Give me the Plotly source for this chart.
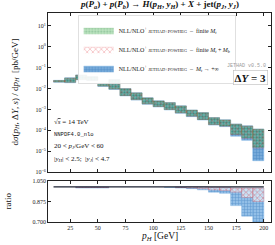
import plotly.graph_objects as go

# ---------------- data ----------------
pt_edges = [10, 20, 30, 40, 50, 60, 70, 80, 90, 100, 110, 120, 130, 140, 150, 160, 170, 180, 190, 200]

green_lo = [0.0209, 0.0200, 0.0275, 0.0251, 0.0132, 0.0095, 0.00468, 0.00295, 0.00186, 0.00138,
            0.00100, 0.000692, 0.000479, 0.000331, 0.000191, 0.000162, 6.46e-5, 4.37e-5, 1.55e-5]
green_hi = [0.0240, 0.0316, 0.0437, 0.0363, 0.0174, 0.0263, 0.00977, 0.00617, 0.00355, 0.00251,
            0.00209, 0.00145, 0.000912, 0.000692, 0.000398, 0.000309, 1.95e-4, 1.58e-4, 1.12e-4]

red_lo = [0.0209, 0.0200, 0.0274, 0.0250, 0.0132, 0.0095, 0.00468, 0.00295, 0.00186, 0.00138,
          0.00100, 0.000690, 0.000476, 0.000328, 0.000188, 0.000158, 6.2e-5, 4.0e-5, 1.4e-5]
red_hi = [0.0240, 0.0316, 0.0437, 0.0363, 0.0174, 0.0263, 0.00977, 0.00617, 0.00355, 0.00251,
          0.00209, 0.00145, 0.000912, 0.000692, 0.000398, 0.000309, 1.95e-4, 1.58e-4, 1.12e-4]

blue_lo = [0.0200, 0.0190, 0.0262, 0.0240, 0.0126, 0.0090, 0.00445, 0.00281, 0.00177, 0.00131,
           0.00095, 0.000655, 0.000452, 0.000312, 0.000178, 0.000150, 5.2e-5, 3.3e-5, 3.5e-6]
blue_hi = [0.0248, 0.0326, 0.0450, 0.0374, 0.0179, 0.0271, 0.01006, 0.00636, 0.00366, 0.00259,
           0.00215, 0.00149, 0.000940, 0.000713, 0.000410, 0.000318, 2.01e-4, 1.63e-4, 1.15e-4]

# ratio panel (to the finite-M_t central value)
blue_r_lo = [1.0, 1.0, 0.99, 0.99, 0.99, 1.0, 1.0, 1.0, 1.0, 1.0,
             0.995, 0.99, 0.985, 0.975, 0.955, 0.945, 0.84, 0.75, 0.60]
blue_r_hi = [1.0, 1.0, 1.0, 1.0, 1.0, 1.0, 1.0, 1.0, 1.0, 1.0,
             1.0, 1.0, 1.0, 1.0, 0.995, 0.995, 0.99, 0.99, 0.99]
red_r_lo = [1.0, 1.0, 0.995, 0.995, 0.995, 1.0, 1.0, 1.0, 1.0, 1.0,
            1.0, 0.995, 0.99, 0.985, 0.975, 0.97, 0.955, 0.91, 0.875]
red_r_hi = [1.0, 1.0, 1.0, 1.0, 1.0, 1.0, 1.0, 1.0, 1.0, 1.0,
            1.0, 1.0, 1.0, 1.0, 0.995, 0.995, 0.99, 0.99, 0.99]

x_ticks = [25, 50, 75, 100, 125, 150, 175, 200]
y_ticks = [10, 1, 0.1, 0.01, 1e-3, 1e-4, 1e-5, 1e-6]
y_ticktext = ["10<sup>1</sup>", "10<sup>0</sup>", "10<sup>−1</sup>", "10<sup>−2</sup>",
              "10<sup>−3</sup>", "10<sup>−4</sup>", "10<sup>−5</sup>", "10<sup>−6</sup>"]
r_ticks = [0.700, 0.875, 1.050]
r_ticktext = ["0.700", "0.875", "1.050"]


def boxes(edges, lo, hi):
    xs, ys = [], []
    for i in range(len(lo)):
        if hi[i] <= lo[i]:
            continue
        x0, x1 = edges[i], edges[i + 1]
        xs += [x0, x1, x1, x0, x0, None]
        ys += [lo[i], lo[i], hi[i], hi[i], lo[i], None]
    return xs, ys


SERIF = "Liberation Serif"
MONO = "Liberation Mono"

BLUE_FILL = "rgba(95,155,210,0.85)"
BLUE_FG = "#2a6fb5"
GREEN_FILL = "rgba(70,180,80,0.36)"
RED_FG = "#e0232a"

lbl = "NLL/NLO<sup>+</sup> <span style='font-size:4.5px'>JETHAD+POWHEG</span>  –  "

fig = go.Figure()

# blue: M_t -> infinity
bx, by = boxes(pt_edges, blue_lo, blue_hi)
fig.add_trace(go.Scatter(
    x=bx, y=by, mode="lines", fill="toself", fillcolor=BLUE_FILL,
    fillpattern=dict(shape="+", fgcolor=BLUE_FG, bgcolor=BLUE_FILL, size=3, solidity=0.3),
    line=dict(color="rgba(130,185,230,0.9)", width=0.6),
    name=lbl + "<i>M<sub>t</sub></i> → +∞", legendrank=3, xaxis="x", yaxis="y"))

# green: finite M_t
gx, gy = boxes(pt_edges, green_lo, green_hi)
fig.add_trace(go.Scatter(
    x=gx, y=gy, mode="lines", fill="toself", fillcolor=GREEN_FILL,
    fillpattern=dict(shape=".", fgcolor="rgba(30,110,60,0.6)", bgcolor=GREEN_FILL, size=3, solidity=0.3),
    line=dict(color="rgba(70,170,80,0.5)", width=0.5),
    name=lbl + "finite <i>M<sub>t</sub></i>", legendrank=1, xaxis="x", yaxis="y"))

# red: finite M_t + M_b
rx, ry = boxes(pt_edges, red_lo, red_hi)
fig.add_trace(go.Scatter(
    x=rx, y=ry, mode="lines", fill="toself", fillcolor="rgba(255,255,255,0)",
    fillpattern=dict(shape="x", fgcolor=RED_FG, bgcolor="rgba(255,255,255,0)", size=4, solidity=0.22),
    line=dict(color="rgba(224,35,42,0.3)", width=0.5),
    name=lbl + "finite <i>M<sub>t</sub></i> + <i>M<sub>b</sub></i>", legendrank=2, xaxis="x", yaxis="y"))

# ratio panel
bx2, by2 = boxes(pt_edges, blue_r_lo, blue_r_hi)
fig.add_trace(go.Scatter(
    x=bx2, y=by2, mode="lines", fill="toself", fillcolor="rgba(120,175,225,0.8)",
    fillpattern=dict(shape="+", fgcolor=BLUE_FG, bgcolor="rgba(120,175,225,0.8)", size=3, solidity=0.3),
    line=dict(color="rgba(120,175,225,0.9)", width=0.5),
    showlegend=False, xaxis="x2", yaxis="y2"))
rx2, ry2 = boxes(pt_edges, red_r_lo, red_r_hi)
fig.add_trace(go.Scatter(
    x=rx2, y=ry2, mode="lines", fill="toself", fillcolor="rgba(255,255,255,0.55)",
    fillpattern=dict(shape="x", fgcolor=RED_FG, bgcolor="rgba(255,255,255,0.55)", size=4, solidity=0.25),
    line=dict(color="rgba(224,35,42,0.4)", width=0.5),
    showlegend=False, xaxis="x2", yaxis="y2"))
fig.add_trace(go.Scatter(
    x=[pt_edges[0], pt_edges[-1]], y=[1.0, 1.0], mode="lines",
    line=dict(color="#1b2030", width=1.2), showlegend=False, xaxis="x2", yaxis="y2"))

axis_common = dict(showline=True, linecolor="#222", linewidth=0.8, mirror="ticks",
                   ticks="inside", ticklen=3, tickwidth=0.6, tickcolor="#222",
                   showgrid=False, zeroline=False,
                   tickfont=dict(family=SERIF, size=6, color="#222"))

fig.update_layout(
    width=275, height=245,
    margin=dict(l=48, r=4, t=13, b=23),
    paper_bgcolor="white", plot_bgcolor="white",
    showlegend=True,
    legend=dict(x=0.135, y=0.99, xanchor="left", yanchor="top",
                font=dict(family=SERIF, size=6, color="#222"),
                bgcolor="rgba(255,255,255,0.9)", bordercolor="#ccc", borderwidth=0.6,
                itemwidth=30, tracegroupgap=0, traceorder="normal"),
    xaxis=dict(domain=[0, 1], range=[5, 206.5], anchor="y", tickvals=x_ticks,
               showticklabels=False, **axis_common),
    yaxis=dict(domain=[0.239, 1], type="log", range=[-6, 1.62], anchor="x",
               tickvals=y_ticks, ticktext=y_ticktext, **axis_common),
    xaxis2=dict(domain=[0, 1], range=[5, 206.5], anchor="y2", tickvals=x_ticks,
                ticktext=[str(v) for v in x_ticks], **axis_common),
    yaxis2=dict(domain=[0, 0.196], range=[0.7, 1.05], anchor="x2",
                tickvals=r_ticks, ticktext=r_ticktext, **axis_common),
)

ann = []
ann.append(dict(text="<b><i>p</i>(<i>P<sub>a</sub></i>) + <i>p</i>(<i>P<sub>b</sub></i>) → <i>H</i>(<i>p<sub>H</sub></i>, <i>y<sub>H</sub></i>) + <i>X</i> + jet(<i>p<sub>J</sub></i>, <i>y<sub>J</sub></i>)</b>",
                x=0.5, y=1, xref="paper", yref="paper", yshift=1, xanchor="center", yanchor="bottom",
                showarrow=False, font=dict(family=SERIF, size=9, color="#111")))
ann.append(dict(text="d<i>σ</i>(<i>p<sub>H</sub></i>, Δ<i>Y</i>, <i>s</i>) / d<i>p<sub>H</sub></i>  [pb/GeV]",
                x=0, y=0.62, xref="paper", yref="paper", xshift=-33, xanchor="center", yanchor="middle",
                textangle=-90, showarrow=False, font=dict(family=SERIF, size=9, color="#111")))
ann.append(dict(text="ratio", x=0, y=0.098, xref="paper", yref="paper", xshift=-40,
                xanchor="center", yanchor="middle", textangle=-90, showarrow=False,
                font=dict(family=SERIF, size=9, color="#111")))
ann.append(dict(text="<i>p<sub>H</sub></i> [GeV]", x=0.5, y=0, xref="paper", yref="paper", yshift=-14,
                xanchor="center", yanchor="middle", showarrow=False,
                font=dict(family=SERIF, size=9.5, color="#111")))
ann.append(dict(text="JETHAD v0.5.0", x=0.985, y=0.745, xref="paper", yref="paper",
                xanchor="right", yanchor="middle", showarrow=False,
                font=dict(family=MONO, size=5, color="#999")))
ann.append(dict(text="<b>Δ<i>Y</i> = 3</b>", x=0.985, y=0.69, xref="paper", yref="paper",
                xanchor="right", yanchor="middle", showarrow=False,
                bordercolor="#bbb", borderwidth=0.6, borderpad=1, bgcolor="white",
                font=dict(family=SERIF, size=11, color="#111")))
left_texts = [("√<span style='text-decoration:overline'><i>s</i></span> = 14 TeV", SERIF, 7, 0.478),
              ("NNPDF4.0_nlo", MONO, 5.5, 0.421),
              ("20 < <i>p<sub>J</sub></i>/GeV < 60", SERIF, 7, 0.364),
              ("|<i>y<sub>H</sub></i>| < 2.5;  |<i>y<sub>J</sub></i>| < 4.7", SERIF, 7, 0.302)]
for t, fam, sz, yy in left_texts:
    ann.append(dict(text=t, x=0.018, y=yy, xref="paper", yref="paper", xanchor="left",
                    yanchor="middle", showarrow=False, font=dict(family=fam, size=sz, color="#111")))
fig.update_layout(annotations=ann)

fig.write_html("out.html", config={"displayModeBar": False},
               post_script="document.body.style.margin='0';document.body.style.padding='0';")
